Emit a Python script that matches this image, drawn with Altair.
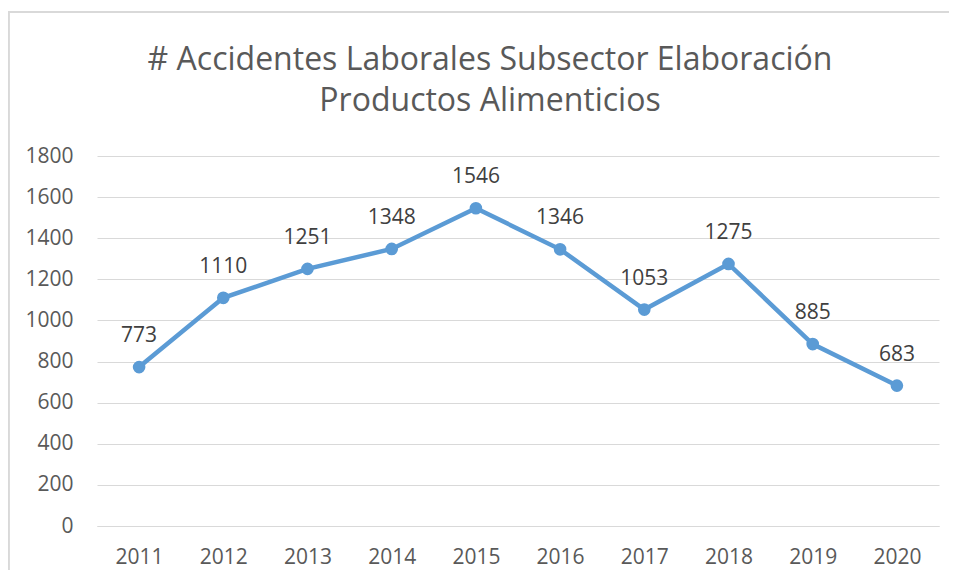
import altair as alt
import pandas as pd

years = ["2011", "2012", "2013", "2014", "2015", "2016", "2017", "2018", "2019", "2020"]
accidents = [773, 1110, 1251, 1348, 1546, 1346, 1053, 1275, 885, 683]
y_ticks = [0, 200, 400, 600, 800, 1000, 1200, 1400, 1600, 1800]
title_lines = ["# Accidentes Laborales Subsector Elaboración", "Productos Alimenticios"]

df = pd.DataFrame({"year": years, "value": accidents})

FONT = "Open Sans"
x = alt.X("year:O", sort=years, scale=alt.Scale(type="point", padding=0.5),
          axis=alt.Axis(title=None, labelAngle=0, ticks=False, domainColor="#d9d9d9",
                        labelFont=FONT, labelFontSize=21, labelColor="#595959", labelPadding=20))
y = alt.Y("value:Q", scale=alt.Scale(domain=[0, 1800], nice=False),
          axis=alt.Axis(title=None, values=y_ticks, format="d", ticks=False, domain=False,
                        gridColor="#d9d9d9",
                        labelFont=FONT, labelFontSize=21, labelColor="#595959", labelPadding=24))

base = alt.Chart(df)
line = base.mark_line(color="#5b9bd5", strokeWidth=4.5).encode(x=x, y=y)
pts = base.mark_circle(color="#5b9bd5", size=160, opacity=1).encode(x=x, y=y)
labels = base.mark_text(font=FONT, fontSize=21, color="#404040", baseline="alphabetic", dy=-25).encode(
    x=x, y=y, text="value:Q")

border_top = alt.Chart(df).mark_rule(color="#d9d9d9", strokeWidth=1.5, clip=False).encode(
    x=alt.value(-89), x2=alt.value(900), y=alt.value(-144))
border_left = alt.Chart(df).mark_rule(color="#d9d9d9", strokeWidth=1.5, clip=False).encode(
    x=alt.value(-88.5), y=alt.value(-144), y2=alt.value(480))

chart = alt.layer(border_top, border_left, line, pts, labels).properties(
    width=842, height=370,
    padding={"left": 89, "top": 148, "right": 10, "bottom": 44},
    autosize=alt.AutoSizeParams(type="none"),
    title=alt.TitleParams(title_lines, font=FONT, fontSize=32, fontWeight="normal", color="#595959",
                          anchor="middle", dx=-28, offset=-107, lineHeight=41),
).configure_view(stroke=None)

chart.save("out.html", embed_options={"renderer": "svg", "actions": False})
